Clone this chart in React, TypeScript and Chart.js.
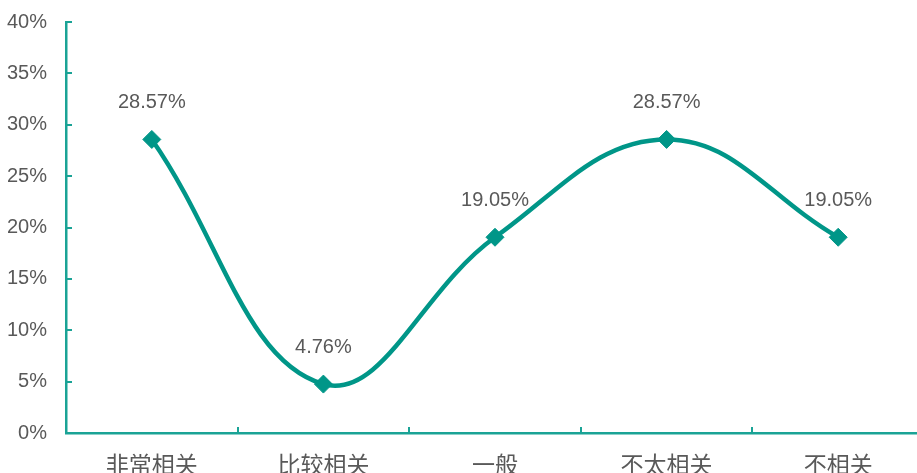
import React, { useEffect, useRef } from "react";
import { Chart, registerables } from "chart.js";

Chart.register(...registerables);

const categories = ["非常相关", "比较相关", "一般", "不太相关", "不相关"];
const values = [28.57, 4.76, 19.05, 28.57, 19.05];
const labels = ["28.57%", "4.76%", "19.05%", "28.57%", "19.05%"];
const yTicks = [0, 5, 10, 15, 20, 25, 30, 35, 40];

const LINE = "#009688";
const AXIS = "#1aa396";
const TEXT = "#595959";

const overlayPlugin = {
  id: "overlay",
  afterDatasetsDraw(chart: any) {
    const ctx = chart.ctx;
    const xs = chart.scales.x;
    const ys = chart.scales.y;
    const area = chart.chartArea;
    ctx.save();
    ctx.strokeStyle = AXIS;
    ctx.lineWidth = 2;
    ctx.beginPath();
    yTicks.forEach((v) => {
      const y = Math.round(ys.getPixelForValue(v));
      ctx.moveTo(area.left, y);
      ctx.lineTo(area.left + 6, y);
    });
    const n = categories.length;
    for (let i = 1; i < n; i++) {
      const x = Math.round(
        (xs.getPixelForValue(i - 1) + xs.getPixelForValue(i)) / 2
      );
      ctx.moveTo(x, area.bottom);
      ctx.lineTo(x, area.bottom - 6);
    }
    ctx.stroke();
    ctx.fillStyle = TEXT;
    ctx.font = "20px 'Liberation Sans', Arial, sans-serif";
    ctx.textAlign = "center";
    ctx.textBaseline = "middle";
    const meta = chart.getDatasetMeta(0);
    meta.data.forEach((pt: any, i: number) => {
      ctx.fillText(labels[i], pt.x, pt.y - 37);
    });
    ctx.restore();
  },
};

export default function App() {
  const ref = useRef<HTMLCanvasElement>(null);
  useEffect(() => {
    if (!ref.current) return;
    const chart = new Chart(ref.current, {
      type: "line",
      data: {
        labels: categories,
        datasets: [
          {
            data: values,
            borderColor: LINE,
            backgroundColor: LINE,
            borderWidth: 4.5,
            tension: 0.4,
            pointStyle: "rectRot",
            pointRadius: 9,
            pointBorderWidth: 1,
            pointBackgroundColor: LINE,
            pointBorderColor: LINE,
            fill: false,
          },
        ],
      },
      options: {
        animation: false,
        responsive: false,
        maintainAspectRatio: false,
        layout: { padding: { top: 22, left: 0, right: 0, bottom: 0 } },
        plugins: {
          legend: { display: false },
          tooltip: { enabled: false },
        },
        scales: {
          x: {
            type: "category",
            offset: true,
            grid: { display: false, drawTicks: false },
            border: { display: true, color: AXIS, width: 2.5 },
            ticks: {
              color: TEXT,
              padding: 17,
              font: { size: 23, family: "'Noto Sans CJK SC', sans-serif" },
            },
            afterFit: (s: any) => {
              s.height = 47;
              s.paddingLeft = 0;
              s.paddingRight = 0;
            },
          },
          y: {
            min: 0,
            max: 40,
            afterBuildTicks: (s: any) => {
              s.ticks = yTicks.map((v) => ({ value: v }));
            },
            grid: { display: false, drawTicks: false },
            border: { display: true, color: AXIS, width: 2.5 },
            ticks: {
              color: TEXT,
              padding: 19,
              font: { size: 20, family: "'Liberation Sans', Arial, sans-serif" },
              callback: (v: any) => v + "%",
            },
            afterFit: (s: any) => {
              s.width = 66;
              s.paddingTop = 0;
              s.paddingBottom = 0;
            },
          },
        },
      },
      plugins: [overlayPlugin],
    });
    return () => chart.destroy();
  }, []);
  return (
    <div
      style={{
        position: "absolute",
        left: 0,
        top: 0,
        width: 917,
        height: 473,
        overflow: "hidden",
        background: "#fff",
      }}
    >
      <canvas ref={ref} width={934} height={480} style={{ display: "block" }} />
    </div>
  );
}
